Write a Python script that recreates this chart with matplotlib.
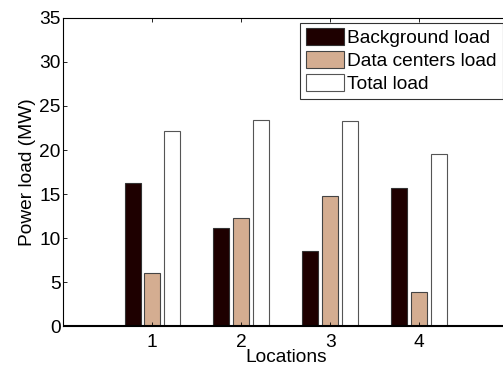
import numpy as np
import matplotlib.pyplot as plt

plt.rcParams['font.family'] = ['Liberation Sans', 'DejaVu Sans']

locations = [1, 2, 3, 4]
background = [16.2, 11.1, 8.5, 15.7]
datacenters = [6.0, 12.3, 14.8, 3.9]
total = [22.2, 23.4, 23.3, 19.5]

fig = plt.figure(figsize=(5.03, 3.66), dpi=100)
ax = fig.add_axes([0.126, 0.109, 0.884, 0.842])

x = np.array(locations)
w = 0.18
off = 0.222
ax.bar(x - off, background, w, color='#1e0000', edgecolor='#333333', linewidth=0.8, label='Background load')
ax.bar(x, datacenters, w, color='#d4ad91', edgecolor='#444444', linewidth=0.8, label='Data centers load')
ax.bar(x + off, total, w, color='white', edgecolor='#555555', linewidth=0.8, label='Total load')

ax.set_xlim(0, 5)
ax.set_ylim(0, 35)
ax.set_xticks(locations)
ax.set_yticks(range(0, 36, 5))
ax.tick_params(direction='in', top=True, right=True, labelsize=13.8, length=3, width=0.6)
ax.tick_params(axis='x', pad=6)
ax.tick_params(axis='y', pad=2)
ax.axhline(0, color='black', linewidth=1.5)
for s in ax.spines.values():
    s.set_linewidth(0.8)
ax.set_xlabel('Locations', fontsize=13.8, labelpad=-1.5)
ax.set_ylabel('Power load (MW)', fontsize=13.8, labelpad=2)

leg = ax.legend(loc='upper right', bbox_to_anchor=(0.988, 0.985), fontsize=13.8, frameon=True, fancybox=False,
                handlelength=1.95, handleheight=1.0, handletextpad=0.2, borderpad=0.3,
                labelspacing=0.2, borderaxespad=0.0)
leg.get_frame().set_edgecolor('black')
leg.get_frame().set_linewidth(0.8)

fig.savefig('out.png', dpi=100)
